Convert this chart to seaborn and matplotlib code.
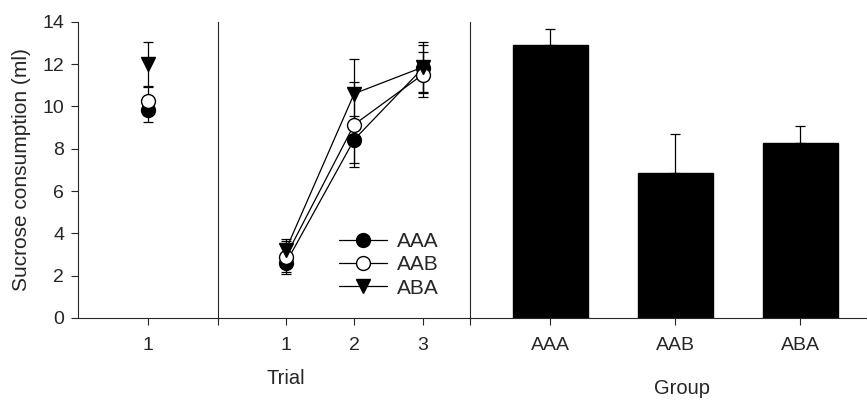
import matplotlib
matplotlib.use("Agg")
import matplotlib.pyplot as plt
import seaborn as sns
import pandas as pd
from matplotlib.lines import Line2D

# ---- data ----
groups = ["AAA", "AAB", "ABA"]
cond_means = [9.85, 10.25, 12.0]
cond_sems = [0.6, 0.65, 1.05]

trials = [1, 2, 3]
ext_aaa = [2.58, 8.43, 11.8]
ext_aaa_sem = [0.5, 1.1, 1.1]
ext_aab = [2.9, 9.14, 11.5]
ext_aab_sem = [0.75, 2.0, 1.05]
ext_aba = [3.2, 10.6, 11.85]
ext_aba_sem = [0.55, 1.65, 1.2]

test_means = [12.92, 6.87, 8.27]
test_sems = [0.75, 1.8, 0.8]

y_ticks = [0, 2, 4, 6, 8, 10, 12, 14]

sns.set_style("ticks")
plt.rcParams["font.family"] = ["Liberation Sans", "DejaVu Sans"]
plt.rcParams["axes.linewidth"] = 0.8

styles = {
    "AAA": dict(marker="o", mfc="black"),
    "AAB": dict(marker="o", mfc="white"),
    "ABA": dict(marker="v", mfc="black"),
}
ms = 10
TICK = 14

fig = plt.figure(figsize=(8.67, 4.01), dpi=100)
bottom, height = 0.2070, 0.7389
ax1 = fig.add_axes([0.0900, bottom, 0.1615, height])
ax2 = fig.add_axes([0.2514, bottom, 0.2907, height], sharey=ax1)
ax3 = fig.add_axes([0.5421, bottom, 0.4579, height], sharey=ax1)

# ---- panel 1 ----
cond_df = pd.DataFrame({"group": groups, "x": [1, 1, 1], "y": cond_means})
for g, m, s in zip(groups, cond_means, cond_sems):
    ax1.errorbar([1], [m], yerr=[s], fmt="none", ecolor="black",
                 elinewidth=0.9, capsize=3.5, capthick=0.9, zorder=2)
for g in groups:
    sub = cond_df[cond_df.group == g]
    sns.lineplot(data=sub, x="x", y="y", ax=ax1, color="black",
                 marker=styles[g]["marker"], markersize=ms,
                 markerfacecolor=styles[g]["mfc"], markeredgecolor="black",
                 markeredgewidth=1.0, linewidth=0, legend=False, zorder=3)
ax1.set_xlim(0.5, 1.5)
ax1.set_xticks([1])
ax1.set_xticklabels(["1"])

# ---- panel 2 ----
ext = {"AAA": (ext_aaa, ext_aaa_sem), "AAB": (ext_aab, ext_aab_sem),
       "ABA": (ext_aba, ext_aba_sem)}
for g in groups:
    m, s = ext[g]
    ax2.errorbar(trials, m, yerr=s, fmt="none", ecolor="black",
                 elinewidth=0.9, capsize=3.5, capthick=0.9, zorder=2)
for g in groups:
    m, s = ext[g]
    df = pd.DataFrame({"trial": trials, "y": m})
    sns.lineplot(data=df, x="trial", y="y", ax=ax2, color="black",
                 marker=styles[g]["marker"], markersize=ms,
                 markerfacecolor=styles[g]["mfc"], markeredgecolor="black",
                 markeredgewidth=1.0, linewidth=0.9, legend=False, zorder=3)
ax2.set_xlim(0.012, 3.69)
ax2.set_xticks(trials)
ax2.set_xticklabels([str(t) for t in trials])

handles = [Line2D([0], [0], color="black", lw=0.9, marker=styles[g]["marker"],
                  markersize=ms, markerfacecolor=styles[g]["mfc"],
                  markeredgecolor="black") for g in groups]
ax2.legend(handles, groups, loc="center left", frameon=False,
           bbox_to_anchor=(339 / 867, 1 - 265 / 401),
           bbox_transform=fig.transFigure, fontsize=15,
           handlelength=2.3, handletextpad=0.5, labelspacing=0.2,
           borderaxespad=0, borderpad=0)

# ---- panel 3 ----
test_df = pd.DataFrame({"group": groups, "y": test_means})
sns.barplot(data=test_df, x="group", y="y", order=groups, ax=ax3,
            color="black", edgecolor="black", width=0.6, errorbar=None,
            saturation=1)
ax3.errorbar([0, 1, 2], test_means, yerr=[[0, 0, 0], test_sems], fmt="none",
             ecolor="black", elinewidth=0.9, capsize=3.5, capthick=0.9,
             zorder=0)
ax3.set_xlim(-0.64, 2.536)

# ---- styling ----
ax1.set_ylim(0, 14)
ax1.set_yticks(y_ticks)
ax1.set_ylabel("Sucrose consumption (ml)", fontsize=15, labelpad=8)
ax1.tick_params(axis="y", labelsize=TICK, length=5, width=0.8, pad=5)
for ax in (ax1, ax2, ax3):
    ax.spines["top"].set_visible(False)
    ax.spines["right"].set_visible(False)
    ax.set_xlabel("")
    ax.tick_params(axis="x", labelsize=TICK, length=5, width=0.8, pad=9)
for ax in (ax2, ax3):
    ax.tick_params(axis="y", left=False, labelleft=False)
    ax.set_ylabel("")
    lo = ax.get_xlim()[0]
    ax.set_xticks([lo], minor=True)
    ax.tick_params(axis="x", which="minor", length=5, width=0.8)

fig.text(286 / 867, 1 - 379 / 401, "Trial", ha="center", va="center",
         fontsize=14.5)
fig.text(682 / 867, 1 - 388 / 401, "Group", ha="center", va="center",
         fontsize=14.5)

fig.savefig("out.png", dpi=100, facecolor="white")
